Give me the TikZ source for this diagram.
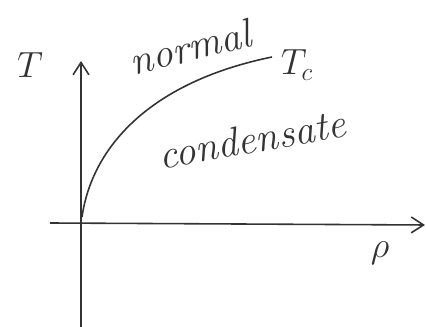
\documentclass[tikz,border=0pt]{standalone}
\usepackage{tikz}
\usetikzlibrary{arrows.meta, positioning}
\definecolor{pencil}{HTML}{333333}

\begin{document}
\begin{tikzpicture}[
    x=0.02cm, y=0.02cm,
    every node/.style={font=\huge\itshape, text=pencil},
    phase/.style={scale=1.12},
    axis/.style={draw=pencil, line width=0.9pt},
    >={Straight Barb[length=7pt, width=9pt]}
  ]
  \useasboundingbox (0,0) rectangle (426,327);

  % ── Axes ────────────────────────────────────────────────────────────────
  \coordinate (o)    at (81, 104);
  \coordinate (ybot) at (81, 0);
  \coordinate (ytop) at (81, 266);
  \coordinate (xlft) at (50, 104);
  \coordinate (xrgt) at (425, 102);
  \draw[axis, ->] (ybot) -- (ytop);
  \draw[axis, ->] (xlft) -- (xrgt);

  \node (tlab)   at (30, 262) {$T$};
  \node (rholab) at (380, 74) {$\rho$};

  % ── Critical line ───────────────────────────────────────────────────────
  \coordinate (c0) at (82, 110);
  \coordinate (c1) at (272, 270);
  \draw[axis] (c0) .. controls (92, 180) and (150, 245) .. (c1);
  \node (tc) at (297, 262) {$T_c$};

  % Phases
  \node[phase, rotate=14] (norm) at (190, 280) {normal};
  \node[phase, rotate=10] (cond) at (252, 188) {condensate};

\end{tikzpicture}
\end{document}
